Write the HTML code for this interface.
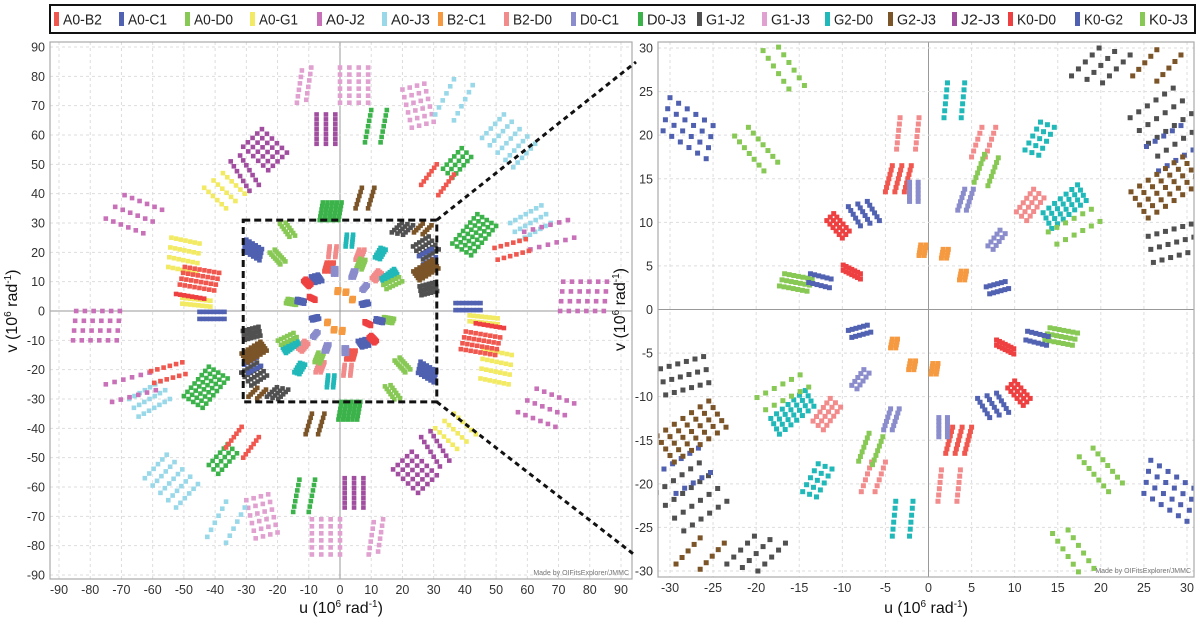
<!DOCTYPE html>
<html><head><meta charset="utf-8">
<style>
body{margin:0;background:#fff;width:1200px;height:625px;overflow:hidden;font-family:"Liberation Sans",sans-serif}
svg{position:absolute;left:0;top:0;overflow:hidden}
</style></head>
<body>
<svg id="chart" width="1200" height="625" viewBox="0 0 1200 625"></svg>
<script>
const NS="http://www.w3.org/2000/svg";
const baselines=["A0-B2","A0-C1","A0-D0","A0-G1","A0-J2","A0-J3","B2-C1","B2-D0","D0-C1","D0-J3","G1-J2","G1-J3","G2-D0","G2-J3","J2-J3","K0-D0","K0-G2","K0-J3"];
const colors=["#f0584f","#5262b2","#88c855","#f2ea62","#c870b8","#99d8e8","#f59a40","#f28b8b","#8a8ccc","#3cb34a","#505050","#e0a0d0","#20b8b8","#7b5428","#a24ea0","#ee4040","#5060b0","#88c855"];
// cluster data: baseline, u, v (centre), along-track half vector, across half vector, points per track, tracks
const clBase=["G1-J3","G1-J3","J2-J3","J2-J3","J2-J3","A0-G1","A0-J2","A0-G1","A0-B2","A0-G1","K0-D0","A0-J2","A0-C1","G1-J3","A0-J3","D0-J3","A0-J3","D0-J3","A0-B2","A0-B2","G2-J3","D0-J3","A0-J3","A0-J2","A0-B2","D0-J3",
"K0-J3","K0-G2","K0-J3","B2-D0","A0-B2","D0-C1","A0-C1","K0-D0","B2-C1","A0-D0","A0-C1","K0-D0","G1-J2","G2-J3","G2-D0","B2-D0","A0-D0","G2-D0","D0-C1","B2-D0","G2-D0","A0-D0","D0-C1","B2-C1","B2-C1","A0-C1","G1-J2","K0-G2","G2-J3","G1-J2"];
const clU=[-11.5,4.5,-4.5,-24,-30.5,-37,-66,-50,-45,-46,-48,78,41,25,36.5,11.5,54,37.5,28.5,34,8,43,61,67,55,-3,
-16.8,-27.9,-20,-2.4,-3.5,-1.7,-7.5,-10.5,-0.7,-15.4,-12.6,-8.9,20,26.5,3,6.4,6.7,12.9,4.3,11.8,15.8,16.9,7.9,1.9,4,8,27.5,28,27.5,28.3];
const clV=[77,77,62,55,47,41,33,19,11,3,5,5,1.5,70,72,63,58,50.5,46.5,43,38.5,26,30,26,21,34,
27.7,20.8,18.4,20.2,15,13.5,11,9.6,6.8,3.1,3.3,4.3,28,28,24,19.2,16,19.6,12.6,12,11.8,9.5,8,6.4,3.9,2.5,21.5,18.5,14,7.6];
const clAU=[0.8,0,0,4,3,3.5,6,4.5,5.5,4.5,4.5,7,4,1.5,3,1,3.5,3,2.5,2.5,1,4,5,7,5,0.5,
1.5,2.5,1.7,0.2,0.4,0,0.7,0.9,0.1,1.6,1.2,1,1.6,1.4,0.2,0.6,0.6,0.9,0.4,1,2,2.5,0.7,0.1,0.1,1.1,2.5,2,3,2.5];
const clAV=[5.5,6,5,-4,-5,-3.5,-2.5,-1,-1,-0.5,-0.8,0,0,-6.5,6,5.5,4,3.5,3.5,3.5,3.5,5,3,2,1.5,3,
-2.2,-1.6,-2,1.8,1.5,1.1,-1.1,-1,0.6,-0.3,-0.3,-0.5,1.6,1.5,2,1.7,1.6,1.6,1.2,1.3,1.6,1.3,0.9,0.5,0.5,0.3,1.7,1.2,2,0.7];
const clBU=[1.5,4.5,3,3,1.5,3,3,0.5,0.8,0,0,0.5,0,3.5,3,2.5,5,1.5,0,0,2,3,1.5,1,0.5,3,
0.9,0.4,0.8,1.1,1.1,0.5,1.1,0.4,0.3,0.3,0.1,0,1.8,1.4,1,0.8,0.8,0.8,0.5,0.6,0.5,0.5,0.3,0.3,0.3,0.2,1.6,0.7,1,0.3];
const clBV=[0.5,0,0,3,1,2.5,4,5,3,1,0,5,1.2,1,-1,0,-5,-1.5,0,0,0,-2,-3,-3,-2,0,
0.2,1.9,0.5,0,0,0,0.3,0.4,0,0.7,0.5,0.3,-0.4,-0.3,0,0,-0.2,-0.3,0,-0.5,-0.9,-0.7,-0.2,0,0,-0.4,-2.2,-1.4,-1.5,-1.5];
const clN=[6,6,7,6,7,6,6,7,8,8,8,6,8,6,6,7,6,6,7,7,6,8,7,6,6,6,
6,6,7,6,7,6,6,6,5,7,6,7,5,5,6,6,7,5,6,6,7,6,5,4,4,6,6,5,7,6];
const clT=[2,4,3,5,2,3,3,4,4,2,1,4,2,4,2,2,5,3,1,1,2,5,3,2,2,5,
2,4,2,2,3,2,3,3,2,3,2,2,3,2,2,2,2,3,2,3,4,2,2,2,2,2,4,2,5,3];
const leftTicks=[-90,-80,-70,-60,-50,-40,-30,-20,-10,0,10,20,30,40,50,60,70,80,90];
const rightTicks=[-30,-25,-20,-15,-10,-5,0,5,10,15,20,25,30];

const svg=document.getElementById('chart');
function mk(tag,attrs,parent){const e=document.createElementNS(NS,tag);for(const k in attrs)e.setAttribute(k,attrs[k]);(parent||svg).appendChild(e);return e;}

const pts=[];
for(let c=0;c<clBase.length;c++){
  const n=clN[c],m=clT[c];
  for(let j=0;j<m;j++)for(let i=0;i<n;i++){
    const fa=n>1?2*i/(n-1)-1:0, fb=m>1?2*j/(m-1)-1:0;
    const u=clU[c]+clAU[c]*fa+clBU[c]*fb, v=clV[c]+clAV[c]*fa+clBV[c]*fb;
    pts.push([clBase[c],u,v]);pts.push([clBase[c],-u,-v]);
  }
}

function panel(name,x0,x1,y0,y1,umin,umax,px0,px1,py0,py1,ticks,ps){
  const g=mk('g',{});
  
  
  const sx=u=>px0+(u-umin)/(umax-umin)*(px1-px0);
  const sy=v=>py0-(v-umin)/(umax-umin)*(py0-py1);
  const cid='clip-'+name;
  const cp=mk('clipPath',{id:cid},g);mk('rect',{x:x0,y:y0,width:x1-x0,height:y1-y0},cp);
  ticks.forEach(t=>{
    const gx=mk('line',{x1:sx(t),x2:sx(t),y1:y0,y2:y1,stroke:t===0?'#999':'#ddd','stroke-dasharray':t===0?'':'3,3','stroke-width':1},g);
    
    const gy=mk('line',{x1:x0,x2:x1,y1:sy(t),y2:sy(t),stroke:t===0?'#999':'#ddd','stroke-dasharray':t===0?'':'3,3','stroke-width':1},g);
    
    const tx=mk('text',{x:sx(t),y:y1+15,'font-size':12.5,'text-anchor':'middle',fill:'#333'},g);tx.textContent=t;
    
    const ty=mk('text',{x:x0-5,y:sy(t)+4.5,'font-size':12.5,'text-anchor':'end',fill:'#333'},g);ty.textContent=t;
    
  });
  const pg=mk('g',{'clip-path':'url(#'+cid+')'},g);
  pts.forEach(p=>{
    const r=mk('rect',{x:sx(p[1])-ps/2,y:sy(p[2])-ps/2,width:ps,height:ps,fill:colors[baselines.indexOf(p[0])]},pg);
    
    
  });
  const b=mk('rect',{x:x0,y:y0,width:x1-x0,height:y1-y0,fill:'none',stroke:'#aaa','stroke-width':1.2},g);
  
  const wm=mk('text',{x:x1-3,y:y1-4,'font-size':7,'text-anchor':'end',fill:'#777'},g);wm.textContent='Made by OIFitsExplorer/JMMC';
  
  const xt=mk('text',{x:(x0+x1)/2,y:613,'font-size':16,'text-anchor':'middle',fill:'#111'},g);
  xt.innerHTML='u (10<tspan font-size="10" dy="-6">6</tspan><tspan dy="6"> rad</tspan><tspan font-size="10" dy="-6">-1</tspan><tspan dy="6">)</tspan>';
  
  const yt=mk('text',{x:0,y:0,'font-size':16,'text-anchor':'middle',fill:'#111',transform:'translate('+(x0-33)+','+sy(0)+') rotate(-90)'},g);
  yt.innerHTML='v (10<tspan font-size="10" dy="-6">6</tspan><tspan dy="6"> rad</tspan><tspan font-size="10" dy="-6">-1</tspan><tspan dy="6">)</tspan>';
  
  return {sx,sy};
}
const L=panel('left-uv-plot',50,632,42,579,-90,90,59,621,575,47,leftTicks,4.6);
panel('right-zoom-plot',658,1194,42,577,-30,30,670,1187,571,48,rightTicks,5);

const zb=mk('rect',{x:L.sx(-31),y:L.sy(31),width:L.sx(31)-L.sx(-31),height:L.sy(-31)-L.sy(31),fill:'none',stroke:'#111','stroke-width':3,'stroke-dasharray':'7,4'});

const c1=mk('line',{x1:L.sx(31),y1:L.sy(31),x2:636,y2:62,stroke:'#111','stroke-width':3,'stroke-dasharray':'5,4'});

const c2=mk('line',{x1:L.sx(31),y1:L.sy(-31),x2:636,y2:556,stroke:'#111','stroke-width':3,'stroke-dasharray':'5,4'});


const lg=mk('g',{});

const lb=mk('rect',{x:50,y:5,width:1145,height:28,fill:'#fff',stroke:'#111','stroke-width':2},lg);

const legendX=[54,119,185,250,317,382,438,504,571,638,697,762,825,888,952,1008,1075,1140];
baselines.forEach((b,i)=>{
  const e=mk('g',{},lg);
  
  
  mk('rect',{x:legendX[i],y:12,width:5,height:14,fill:colors[i]},e);
  const t=mk('text',{x:legendX[i]+9,y:24.5,'font-size':14.5,fill:'#222',textLength:b.length*8.2-2,lengthAdjust:'spacingAndGlyphs'},e);t.textContent=b;
});
</script>
</body></html>
